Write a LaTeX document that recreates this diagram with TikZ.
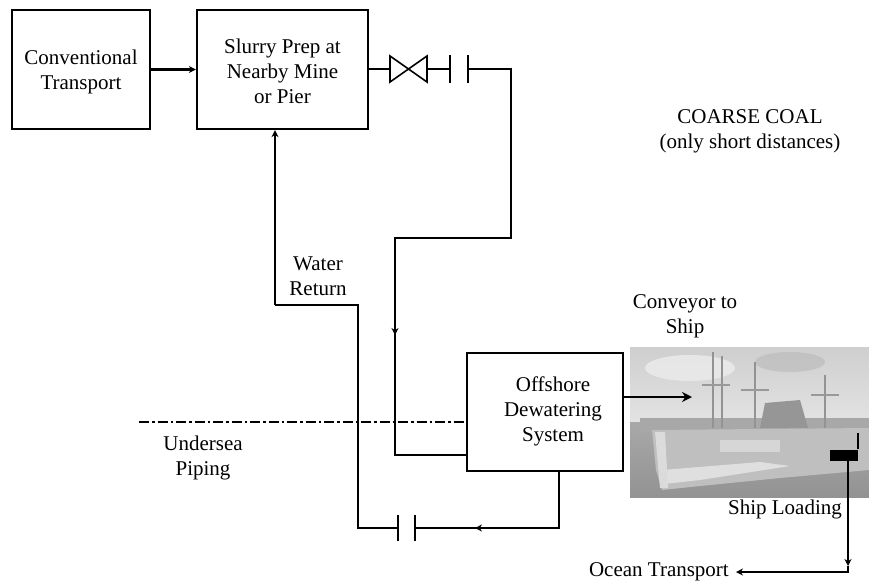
\documentclass[tikz,border=0pt]{standalone}
\usepackage{fontspec}
\setmainfont{Liberation Serif}
\usetikzlibrary{arrows.meta}
\begin{document}
\begin{tikzpicture}[x=1pt,y=-1pt,
  box/.style={draw,line width=2.3pt,minimum width=#1,inner sep=0pt},
  pipe/.style={line width=2.2pt},
  arr/.style={pipe,-{Stealth[length=7pt,width=7pt]}},
  bigarr/.style={pipe,-{Stealth[length=10pt,width=10pt]}},
  lbl/.style={font=\fontsize{21}{25}\selectfont,align=center,inner sep=0pt},
  plate/.style={line width=2.2pt}]
\useasboundingbox (0,0) rectangle (869,584);
% ---- photo (approximation of the ship picture) ----
\begin{scope}
\clip (630,347) rectangle (869,497);
\shade[top color=gray!38,bottom color=gray!22] (630,347) rectangle (869,424);
\fill[gray!15,opacity=0.8] (690,368) ellipse (45 and 13);
\fill[gray!55,opacity=0.6] (790,362) ellipse (35 and 10);
\shade[top color=gray!68,bottom color=gray!85] (630,422) rectangle (869,497);
\fill[gray!68] (640,418) rectangle (869,432);
\fill[gray!82] (765,403) -- (800,400) -- (808,428) -- (760,428) -- cycle;
\foreach \mx/\mt in {713/352,722/356,755/362,825/375}
  \draw[gray!85,line width=2.6pt] (\mx,\mt) -- (\mx,428);
\foreach \mx/\my in {716/385,755/390,825/395}
  \draw[gray!80,line width=1.6pt] (\mx-14,\my) -- (\mx+14,\my);
\fill[gray!50] (652,430) -- (869,428) -- (869,470) -- (780,478) -- (700,486) -- (662,490) -- (656,470) -- cycle;
\fill[gray!25] (662,470) -- (760,462) -- (790,466) -- (700,480) -- (664,484) -- cycle;
\fill[gray!28] (655,432) -- (665,432) -- (668,488) -- (660,488) -- cycle;
\fill[gray!32] (720,440) rectangle (780,452);
\end{scope}
% ---- boxes ----
\node[box=138pt,minimum height=119pt] (conv) at (81,69.5) {};
\node[lbl] at (81,72) {Conventional\\Transport};
\node[box=171pt,minimum height=119pt] (slurry) at (282.5,69.5) {};
\node[lbl] at (282.5,71) {Slurry Prep at\\Nearby Mine\\or Pier};
\node[box=156pt,minimum height=118pt] (off) at (545,412) {};
\node[lbl] at (553,411) {Offshore\\Dewatering\\System};
% ---- labels ----
\node[lbl] (water) at (318,276) {Water\\Return};
\node[lbl] (under) at (203,458) {Undersea\\Piping};
\node[lbl] (conveyor) at (685,316) {Conveyor to\\Ship};
\node[lbl] (coarse) at (750,131) {COARSE COAL\\(only short distances)};
\node[lbl] (shiplabel) at (785,509) {Ship Loading};
\node[lbl,anchor=east] (ocean) at (729,572) {Ocean Transport};
% ---- ship loading block ----
\node[fill=black,minimum width=28pt,minimum height=11pt,inner sep=0pt] (load) at (844,455) {};
\draw[pipe] (load.north east) -- ++(0,-16);
% ---- coordinates ----
\coordinate (v1) at (390,69);
\coordinate (v2) at (427,69);
\coordinate (c1) at (450,69);
\coordinate (c2) at (468,69);
\coordinate (r1) at (511,69);
\coordinate (r2) at (511,238);
\coordinate (r3) at (395,238);
\coordinate (r4) at (395,335);
\coordinate (r5) at (395,455);
\coordinate (c3) at (398,528);
\coordinate (c4) at (415,528);
\coordinate (w1) at (559,528);
\coordinate (w2) at (475,528);
\coordinate (w3) at (358,528);
\coordinate (w4) at (358,305);
\coordinate (w5) at (275,305);
\coordinate (d0) at (139,422);
\coordinate (conv1) at (692,397);
\coordinate (o1) at (848,566);
\coordinate (o2) at (848,572);
% ---- connectors ----
\draw[arr] (conv.east) -- (slurry.west);
\draw[pipe] (slurry.east |- v1) -- (v1);
\draw[line width=1.6pt] (v1) -- ++(0,-13) -- ++(37,26) -- ++(0,-26) -- ++(-37,26) -- cycle;
\draw[pipe] (v2) -- (c1);
\draw[plate] (c1) ++(0,-14) -- ++(0,28);
\draw[plate] (c2) ++(0,-14) -- ++(0,28);
\draw[pipe] (c2) -- (r1) -- (r2) -- (r3) -- (r4);
\draw[arr] (r3) -- (r4);
\draw[pipe] (r4) -- (r5) -- (off.west |- r5);
\draw[pipe] (off.south -| w1) -- (w1) -- (w2);
\draw[arr] (w1) -- (w2);
\draw[pipe] (w2) -- (c4);
\draw[plate] (c4) ++(0,-13) -- ++(0,26);
\draw[plate] (c3) ++(0,-13) -- ++(0,26);
\draw[pipe] (c3) -- (w3) -- (w4) -- (w5);
\draw[arr] (w5) -- (w5 |- slurry.south);
\draw[pipe,dash pattern=on 10pt off 3pt on 2.5pt off 3pt] (d0) -- (off.west |- d0);
\draw[bigarr] (off.east |- conv1) -- (conv1);
\draw[arr] (load.south -| o1) -- (o1);
\draw[arr] (o1) -- (o2) -- ([xshift=7pt]ocean.east);
\end{tikzpicture}
\end{document}
